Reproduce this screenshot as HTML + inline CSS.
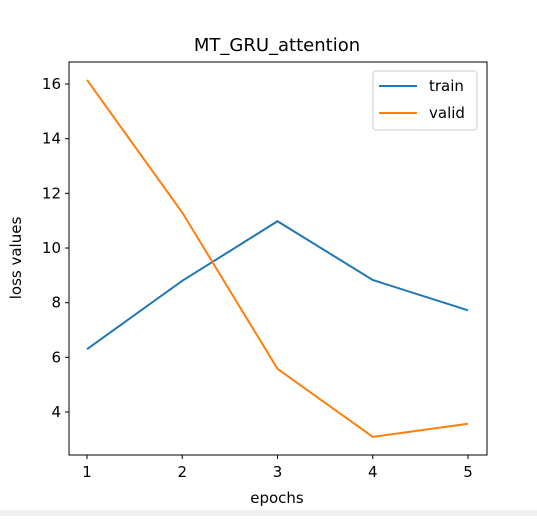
<!DOCTYPE html>
<html><head><meta charset="utf-8"><style>
body{margin:0;background:#fff;width:537px;height:516px;overflow:hidden;font-family:"Liberation Sans","DejaVu Sans",sans-serif}
</style></head><body>
<svg id="chart" width="537" height="516" xmlns="http://www.w3.org/2000/svg" font-family="DejaVu Sans, Liberation Sans, sans-serif">
<rect x="0" y="510" width="537" height="6" fill="#f0f0f0"/>
<text x="277" y="51" text-anchor="middle" font-size="18">MT_GRU_attention</text>
<text x="277" y="503" text-anchor="middle" font-size="15">epochs</text>
<text transform="translate(21,258) rotate(-90)" text-anchor="middle" font-size="15">loss values</text>
<g id="ticks"></g>
<g id="lines"></g>
<rect x="69" y="62" width="418" height="393" fill="none" stroke="#000" stroke-width="1"/>
<g>
<rect x="373" y="71" width="104" height="59" rx="3" fill="#fff" stroke="#ccc"/>
<line x1="379" y1="86" x2="417" y2="86" stroke="#1f77b4" stroke-width="2"/>
<text x="429" y="91" font-size="15">train</text>
<line x1="379" y1="113" x2="417" y2="113" stroke="#ff7f0e" stroke-width="2"/>
<text x="429" y="118" font-size="15">valid</text>
</g>
</svg>
<script>
const epochs=[1,2,3,4,5];
const trainLoss=[6.3,8.8,10.98,8.83,7.72];
const validLoss=[16.15,11.3,5.58,3.09,3.57];
const yTicks=[4,6,8,10,12,14,16];
const xTicks=[1,2,3,4,5];
const NS="http://www.w3.org/2000/svg";
function xs(v){return 87+(v-1)*95.25;}
function ys(v){return 412-(v-4)*27.33;}
const tg=document.getElementById('ticks');
function mk(tag,attrs,parent){const e=document.createElementNS(NS,tag);for(const k in attrs)e.setAttribute(k,attrs[k]);parent.appendChild(e);return e;}
yTicks.forEach(t=>{
 const l=mk('line',{x1:65,x2:69,y1:ys(t),y2:ys(t),stroke:'#000'},tg);
 
 
 const tx=mk('text',{x:61,y:ys(t)+5,'text-anchor':'end','font-size':15},tg);
 tx.textContent=t;
 
 
});
xTicks.forEach(t=>{
 const l=mk('line',{x1:xs(t),x2:xs(t),y1:455,y2:459,stroke:'#000'},tg);
 
 
 const tx=mk('text',{x:xs(t),y:477,'text-anchor':'middle','font-size':15},tg);
 tx.textContent=t;
 
 
});
const lg=document.getElementById('lines');
function series(vals,color,name){
 const p=mk('polyline',{points:vals.map((v,i)=>xs(epochs[i])+','+ys(v)).join(' '),fill:'none',stroke:color,'stroke-width':2},lg);
 
 
}
series(trainLoss,'#1f77b4','train-line');
series(validLoss,'#ff7f0e','valid-line');
</script>
</body></html>
